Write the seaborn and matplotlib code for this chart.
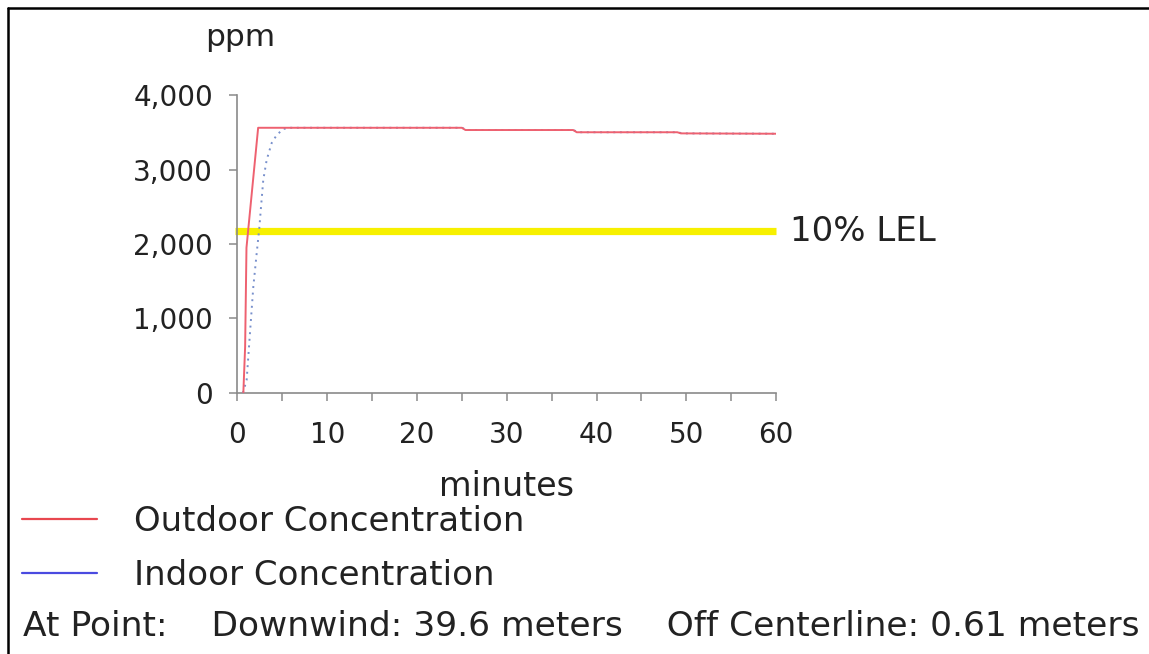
import matplotlib
matplotlib.use("Agg")
import matplotlib.pyplot as plt
from matplotlib.lines import Line2D
from matplotlib.ticker import MultipleLocator, FuncFormatter
import seaborn as sns
import pandas as pd

# Outdoor concentration (ppm) over time (minutes)
outdoor_minutes = [0.65, 0.85, 1.0, 2.3, 25.0, 25.4, 37.4, 37.8, 49.0, 49.4, 60.0]
outdoor_ppm = [0, 620, 1950, 3560, 3560, 3530, 3530, 3500, 3500, 3485, 3480]

# Indoor concentration (ppm) over time (minutes)
indoor_minutes = [0.6, 1.02, 1.39, 1.76, 2.14, 2.43, 2.62, 2.87, 3.25, 3.81, 4.37, 5.1, 5.85,
                  25.0, 25.6, 37.4, 38.0, 49.0, 49.6, 60.0]
indoor_ppm = [0, 174, 805, 1423, 1879, 2215, 2497, 2859, 3128, 3356, 3463, 3544, 3560,
              3560, 3530, 3530, 3500, 3500, 3485, 3480]

# Level of concern
lel_ppm = 2170
lel_label = "10% LEL"

series_labels = ["Outdoor Concentration", "Indoor Concentration"]
location_text = "At Point:    Downwind: 39.6 meters    Off Centerline: 0.61 meters"

x_ticks = [0, 10, 20, 30, 40, 50, 60]
y_ticks = [0, 1000, 2000, 3000, 4000]

sns.set_theme(style="white")
plt.rcParams["font.family"] = ["DejaVu Sans"]

W, H = 1149, 654
fig = plt.figure(figsize=(W / 100, H / 100), dpi=100)
fig.patch.set_facecolor("white")

def fx(px):
    return px / W

def fy(py):
    return 1 - py / H

ax_left, ax_right, ax_top, ax_bottom = 237.5, 776.0, 95.0, 393.0
ax_h = ax_bottom - ax_top
ax = fig.add_axes([fx(ax_left), fy(ax_bottom), fx(ax_right - ax_left), ax_h / H])
ax.set_facecolor("none")

out_df = pd.DataFrame({"minutes": outdoor_minutes, "ppm": outdoor_ppm})
in_df = pd.DataFrame({"minutes": indoor_minutes, "ppm": indoor_ppm})

red = "#e8474f"
blue = "#4a4ae0"
text_color = "#222222"

# Threshold band
ax.plot([-0.3, 60], [lel_ppm, lel_ppm], color="#f7f000", lw=5.2, solid_capstyle="butt",
        clip_on=False, zorder=1)

sns.lineplot(data=in_df, x="minutes", y="ppm", ax=ax, color="#7890cc", lw=1.4,
             linestyle=(0, (1, 2.4)), zorder=3, estimator=None, sort=False)
sns.lineplot(data=out_df, x="minutes", y="ppm", ax=ax, color="#ee6170", lw=1.4,
             zorder=4, estimator=None, sort=False)

ax.text(61.55, lel_ppm, lel_label, va="center", ha="left", fontsize=24.5, color=text_color)

ax.set_xlim(0, 60)
ax.set_ylim(0, 4000)
ax.set_xticks(x_ticks)
ax.set_yticks(y_ticks)
ax.xaxis.set_minor_locator(MultipleLocator(5))
ax.yaxis.set_major_formatter(FuncFormatter(lambda v, p: f"{int(v):,}"))

for side in ["top", "right"]:
    ax.spines[side].set_visible(False)
for side in ["left", "bottom"]:
    ax.spines[side].set_color("#8a8a8a")
    ax.spines[side].set_linewidth(1.2)

ax.tick_params(axis="y", which="major", direction="out", length=5.5, width=1.1,
               color="#8a8a8a", pad=12, labelsize=20, labelcolor=text_color, left=True)
ax.tick_params(axis="x", which="both", direction="out", length=6, width=1.1,
               color="#8a8a8a", pad=14, labelsize=20, labelcolor=text_color, bottom=True)

ax.set_xlabel("minutes", fontsize=24, color=text_color)
ax.xaxis.set_label_coords(0.5, (ax_bottom - 487) / ax_h)
ax.xaxis.label.set_va("center")
ax.set_ylabel("ppm", rotation=0, fontsize=22.5, color=text_color)
ax.yaxis.set_label_coords(0.005, (ax_bottom - 37) / ax_h)
ax.yaxis.label.set_ha("center")
ax.yaxis.label.set_va("center")

# Legend below the chart
handles = [Line2D([], [], color=red, lw=1.6), Line2D([], [], color=blue, lw=1.6)]
fig.legend(handles, series_labels, loc="upper left",
           bbox_to_anchor=(fx(22), fy(505)), frameon=False, fontsize=24.5,
           handlelength=2.2, handletextpad=1.1, labelspacing=0.62,
           borderaxespad=0, borderpad=0, labelcolor=text_color)

fig.text(fx(23), fy(626), location_text, fontsize=24.8, color=text_color, va="center", ha="left")

# Window frame edges
fig.add_artist(Line2D([fx(8), fx(8)], [fy(8), 0], transform=fig.transFigure, color="black", lw=1.8))
fig.add_artist(Line2D([fx(8), 1], [fy(8), fy(8)], transform=fig.transFigure, color="black", lw=1.8))

fig.savefig("out.png", dpi=100)
